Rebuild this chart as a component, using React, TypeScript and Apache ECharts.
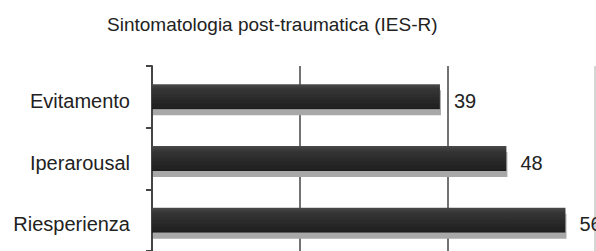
import React, { useEffect, useRef } from "react";
import * as echarts from "echarts";

const titleText = "Sintomatologia post-traumatica (IES-R)";
const categories = ["Evitamento", "Iperarousal", "Riesperienza"];
const values = [39, 48, 56];
const axisMin = 0;
const axisMax = 60;
const axisInterval = 20;

export default function App() {
  const ref = useRef<HTMLDivElement>(null);
  useEffect(() => {
    if (!ref.current) return;
    const chart = echarts.init(ref.current, undefined, { renderer: "svg" });
    const font = "Liberation Sans";
    const rich = {
      a: { fontFamily: font, fontSize: 20, lineHeight: 20, color: "#222", verticalAlign: "bottom" },
      s: { height: 28, width: 0 },
    };
    chart.setOption({
      animation: false,
      backgroundColor: "#ffffff",
      title: {
        text: titleText,
        left: 107,
        top: 15,
        padding: 0,
        textStyle: { fontFamily: font, fontSize: 19, fontWeight: "normal", color: "#222" },
      },
      grid: { left: 152, top: 66, width: 443, height: 189 },
      xAxis: {
        type: "value",
        min: axisMin,
        max: axisMax,
        interval: axisInterval,
        axisLabel: { show: false },
        axisLine: { show: false },
        axisTick: { show: false },
        splitLine: {
          show: true,
          lineStyle: { color: ["#444", "#444", "#444", "#c8c8c8"], width: 1.5 },
        },
      },
      yAxis: {
        type: "category",
        data: categories,
        inverse: true,
        axisLine: { show: true, lineStyle: { color: "#444", width: 2 } },
        axisTick: { show: true, length: 6, lineStyle: { color: "#444", width: 2 } },
        axisLabel: {
          margin: 22,
          formatter: (v: string) => `{a|${v}}{s|}`,
          rich,
        },
      },
      series: [
        {
          type: "bar",
          data: values,
          barWidth: 25,
          itemStyle: {
            color: new echarts.graphic.LinearGradient(0, 0, 0, 1, [
              { offset: 0, color: "#4a4a4a" },
              { offset: 0.2, color: "#353535" },
              { offset: 1, color: "#1e1e1e" },
            ]),
            shadowColor: "#a8a8a8",
            shadowOffsetY: 6,
            shadowOffsetX: 1,
            shadowBlur: 0,
          },
          label: {
            show: true,
            position: "right",
            distance: 14,
            formatter: "{a|{c}}{s|}",
            rich,
          },
        },
      ],
    });
    return () => chart.dispose();
  }, []);
  return (
    <div
      ref={ref}
      style={{ position: "fixed", left: 0, top: 0, width: 596, height: 251 }}
    />
  );
}
